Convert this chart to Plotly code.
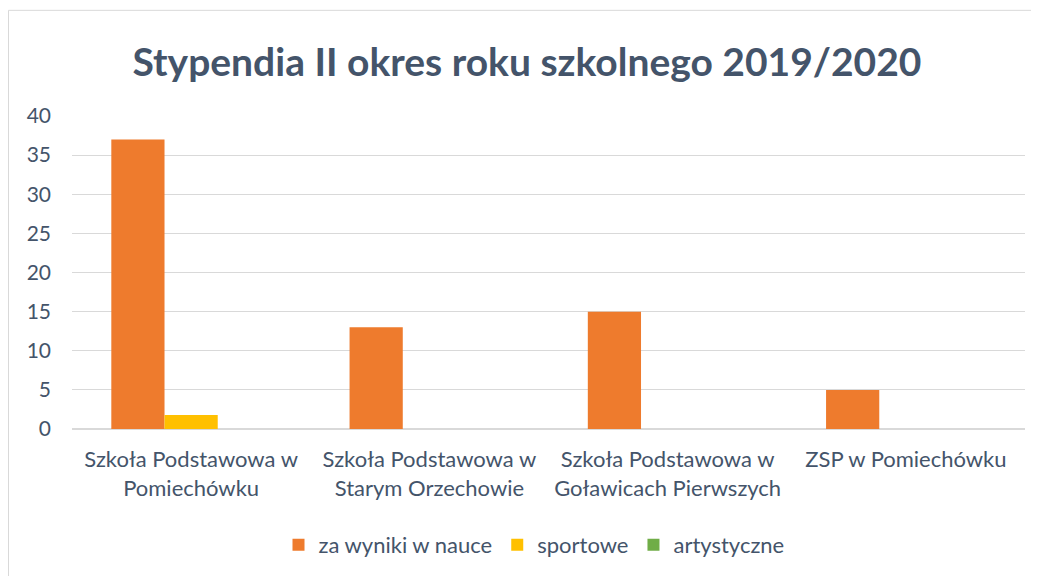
import plotly.graph_objects as go

categories = [
    "Szkoła Podstawowa w<br>Pomiechówku",
    "Szkoła Podstawowa w<br>Starym Orzechowie",
    "Szkoła Podstawowa w<br>Goławicach Pierwszych",
    "ZSP w Pomiechówku",
]
series_names = ["za wyniki w nauce", "sportowe", "artystyczne"]
nauka = [37, 13, 15, 5]
sportowe = [1.8, 0, 0, 0]
artystyczne = [0, 0, 0, 0]
colors = ["#EE7B2D", "#FFC000", "#70AD47"]
y_ticks = [0, 5, 10, 15, 20, 25, 30, 35, 40]

FONT = "Lato, 'Open Sans', sans-serif"
TXT = "#44546A"

fig = go.Figure()
for name, vals, col in zip(series_names, [nauka, sportowe, artystyczne], colors):
    fig.add_trace(go.Bar(x=categories, y=vals, name=name,
                         marker=dict(color=col, line=dict(width=0))))

# page body has an 8px margin, so the figure is drawn 8px in from the corner
W, H = 1031, 568
ml, mr, mt, mb = 64, 14, 108, 146
pw, ph = W - ml - mr, H - mt - mb

fig.update_layout(
    width=W, height=H,
    margin=dict(l=ml, r=mr, t=mt, b=mb),
    paper_bgcolor="white", plot_bgcolor="white",
    barmode="group", bargap=0.33, bargroupgap=0,
    font=dict(family=FONT, color=TXT, size=22),
    title=dict(text="<b>Stypendia II okres roku szkolnego 2019/2020</b>",
               x=(527 - 8) / W, xanchor="center", y=1 - 54 / H, yanchor="middle",
               font=dict(size=39, color=TXT, family=FONT)),
    legend=dict(orientation="h", x=(534 - 8 - ml) / pw, xanchor="center",
                y=-(537 - 422) / ph, yanchor="middle",
                font=dict(size=22, color=TXT), itemwidth=30,
                traceorder="normal"),
    showlegend=True,
)
fig.update_yaxes(range=[0, 40], tickvals=y_ticks, showgrid=True,
                 gridcolor="#D9D9D9", gridwidth=1, zeroline=True,
                 zerolinecolor="#D9D9D9", showline=False, ticks="",
                 ticklabelstandoff=20, tickfont=dict(size=21, color=TXT))
fig.update_xaxes(showline=False, ticks="", ticklabelstandoff=15,
                 tickfont=dict(size=22, color=TXT), tickangle=0)

# outer chart frame
fig.add_shape(type="rect", xref="paper", yref="paper",
              x0=(0.5 - ml) / pw, x1=(W + 5 - ml) / pw,
              y0=-(H + 5 - mt - ph) / ph, y1=1 + (mt - 2) / ph,
              line=dict(color="#D9D9D9", width=1), fillcolor="rgba(0,0,0,0)",
              layer="below")

fig.write_html("out.html")
